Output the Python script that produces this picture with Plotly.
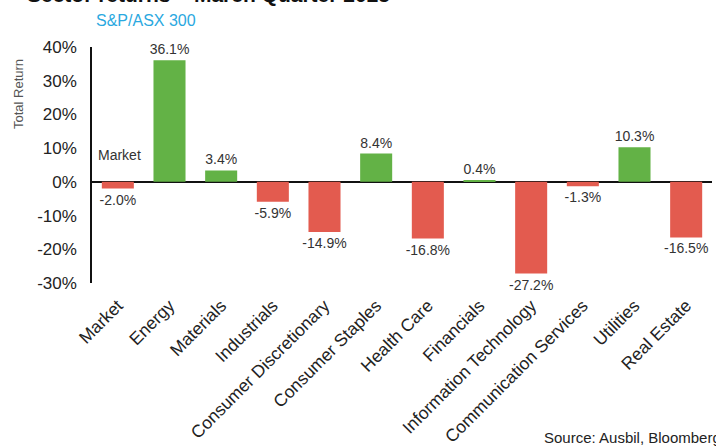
import plotly.graph_objects as go

categories = ["Market", "Energy", "Materials", "Industrials", "Consumer Discretionary",
              "Consumer Staples", "Health Care", "Financials", "Information Technology",
              "Communication Services", "Utilities", "Real Estate"]
returns = [-2.0, 36.1, 3.4, -5.9, -14.9, 8.4, -16.8, 0.4, -27.2, -1.3, 10.3, -16.5]
y_ticks = [-30, -20, -10, 0, 10, 20, 30, 40]
y_tick_labels = [f"{v}%" for v in y_ticks]

GREEN = "#63B246"
RED = "#E35B4F"
colors = [GREEN if v >= 0 else RED for v in returns]

FONT = "Arial, Liberation Sans, Helvetica, sans-serif"

W, H = 716, 447
ML, MR, MT, MB = 92, 4, 47, 164
PW, PH = W - ML - MR, H - MT - MB


def px_x(p):
    return (p - ML) / PW


def px_y(p):
    return (H - MB - p) / PH


fig = go.Figure(go.Bar(
    x=categories, y=returns,
    marker=dict(color=colors, line=dict(width=0)),
    text=[f"{v:.1f}%" for v in returns],
    textposition="outside",
    constraintext="none",
    textfont=dict(family=FONT, size=14, color="#333333"),
    cliponaxis=False,
    showlegend=False,
))

fig.update_layout(
    width=W, height=H,
    margin=dict(l=ML, r=MR, t=MT, b=MB, pad=0),
    paper_bgcolor="white", plot_bgcolor="white",
    bargap=0.38,
    font=dict(family=FONT, color="#222222"),
    xaxis=dict(
        showline=False, showgrid=False, ticks="",
        tickangle=-45, ticklabelstandoff=8,
        tickfont=dict(family=FONT, size=17.5, color="#222222"),
        automargin=False,
    ),
    yaxis=dict(
        range=[-30, 40],
        tickvals=y_ticks, ticktext=y_tick_labels,
        showgrid=False, showline=True, linecolor="#111111", linewidth=1.5,
        zeroline=True, zerolinecolor="#111111", zerolinewidth=1.5,
        ticks="", ticklabelstandoff=10,
        tickfont=dict(family=FONT, size=17, color="#222222"),
        automargin=False,
    ),
    annotations=[
        dict(text="<b>Sector returns – March Quarter 2025</b>", x=px_x(392), y=px_y(8),
             xref="paper", yref="paper", xanchor="right", yanchor="bottom",
             showarrow=False, font=dict(family=FONT, size=21, color="#111111")),
        dict(text="S&P/ASX 300", x=px_x(94), y=px_y(20),
             xref="paper", yref="paper", xanchor="left", yanchor="middle",
             showarrow=False, font=dict(family=FONT, size=16, color="#2AA8E0")),
        dict(text="Total Return", x=px_x(18), y=px_y(94), textangle=-90,
             xref="paper", yref="paper", xanchor="center", yanchor="middle",
             showarrow=False, font=dict(family=FONT, size=13, color="#555555")),
        dict(text="Market", x=px_x(96), y=px_y(155),
             xref="paper", yref="paper", xanchor="left", yanchor="middle",
             showarrow=False, font=dict(family=FONT, size=14, color="#333333")),
        dict(text="Source: Ausbil, Bloomberg", x=px_x(542), y=px_y(437),
             xref="paper", yref="paper", xanchor="left", yanchor="middle",
             showarrow=False, font=dict(family=FONT, size=15, color="#222222")),
    ],
)

fig.write_html("out.html")
